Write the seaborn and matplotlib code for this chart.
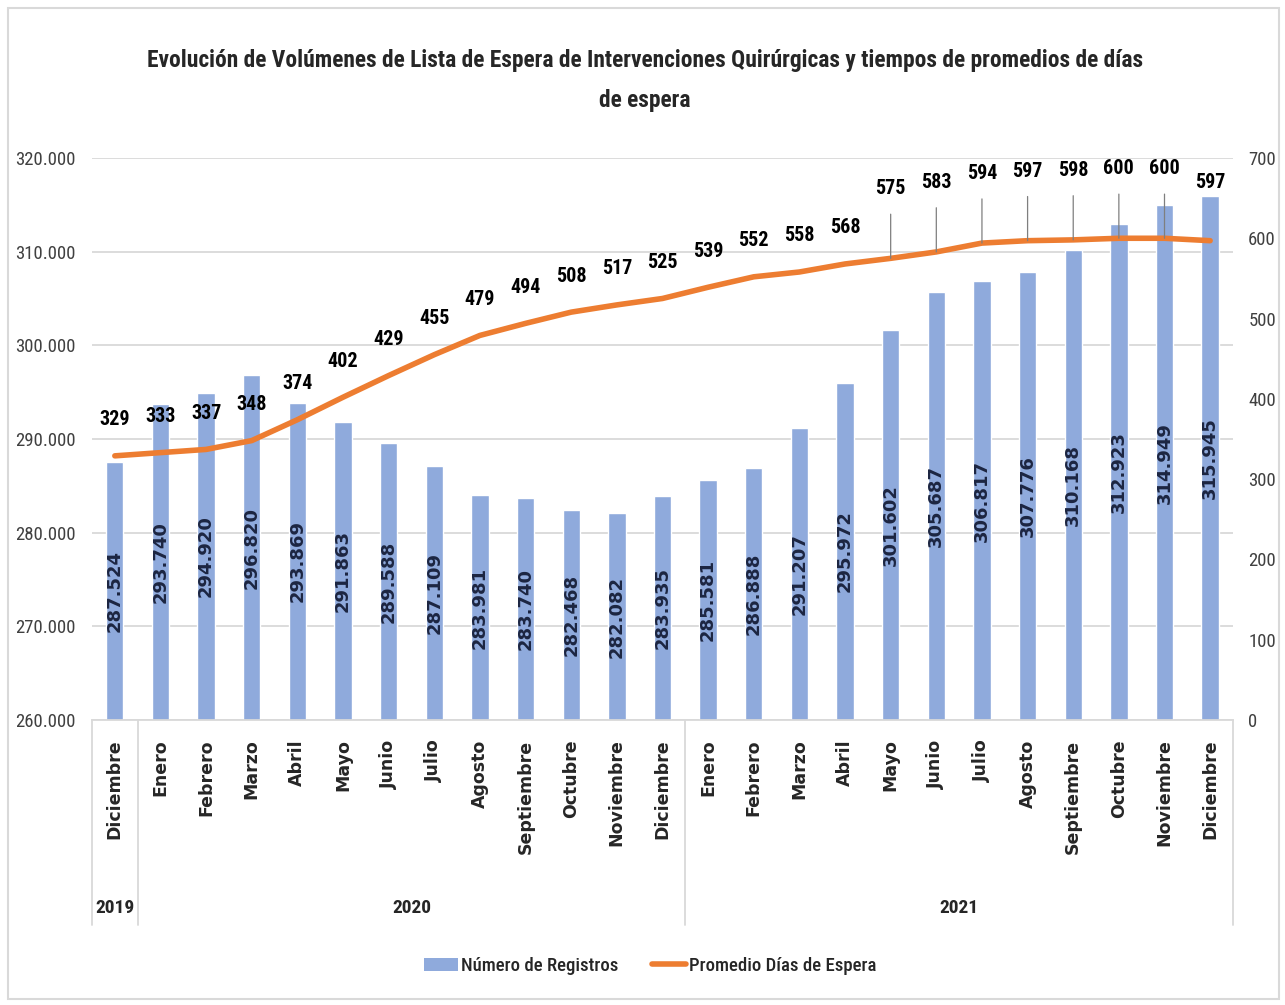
import numpy as np
import pandas as pd
import matplotlib
matplotlib.use("Agg")
import matplotlib.pyplot as plt
from matplotlib import font_manager
from matplotlib.patches import Patch, Rectangle
from matplotlib.lines import Line2D
from matplotlib.ticker import FuncFormatter
import matplotlib.transforms as mtransforms
import seaborn as sns

# Datos
meses = ["Diciembre", "Enero", "Febrero", "Marzo", "Abril", "Mayo", "Junio", "Julio",
         "Agosto", "Septiembre", "Octubre", "Noviembre", "Diciembre",
         "Enero", "Febrero", "Marzo", "Abril", "Mayo", "Junio", "Julio",
         "Agosto", "Septiembre", "Octubre", "Noviembre", "Diciembre"]
anios = ["2019"] + ["2020"] * 12 + ["2021"] * 12
registros = [287524, 293740, 294920, 296820, 293869, 291863, 289588, 287109,
             283981, 283740, 282468, 282082, 283935, 285581, 286888, 291207,
             295972, 301602, 305687, 306817, 307776, 310168, 312923, 314949, 315945]
dias_espera = [329, 333, 337, 348, 374, 402, 429, 455, 479, 494, 508, 517, 525,
               539, 552, 558, 568, 575, 583, 594, 597, 598, 600, 600, 597]
grupos_anio = ["2019", "2020", "2021"]

df = pd.DataFrame({"mes": meses, "anio": anios,
                   "registros": registros, "dias": dias_espera})
df["periodo"] = df["mes"] + " " + df["anio"]
df["pos"] = np.arange(len(df))

AZUL = "#8FAADC"
NARANJA = "#ED7D31"
GRIS = "#D9D9D9"

# fuente estrecha si existe
disponibles = {f.name for f in font_manager.fontManager.ttflist}
estrecha = "DejaVu Sans"
for cand in ["Liberation Sans Narrow", "DejaVu Sans Condensed", "Roboto Condensed",
             "Open Sans Condensed", "Roboto", "Liberation Sans"]:
    if cand in disponibles:
        estrecha = cand
        break

sns.set_theme(style="white")
narrow = [estrecha, "DejaVu Sans"]
wide = ["DejaVu Sans"]
plt.rcParams["font.family"] = narrow

fig = plt.figure(figsize=(12.85, 10.05), dpi=100)
ax = fig.add_axes([0.0716, 0.2836, 0.8879, 0.5592])

sns.barplot(data=df, x="periodo", y="registros", color=AZUL, width=0.38,
            saturation=1, ax=ax, zorder=2)
ax.set_ylim(260000, 320000)
ax.set_yticks(np.arange(260000, 320001, 10000))
ax.yaxis.set_major_formatter(FuncFormatter(lambda v, p: f"{int(v):,}".replace(",", ".")))
ax.grid(axis="y", color=GRIS, lw=1.3, zorder=0)
ax.set_axisbelow(True)
ax.set_xlabel("")
ax.set_ylabel("")
for s in ["top", "right", "left"]:
    ax.spines[s].set_visible(False)
ax.spines["bottom"].set_color(GRIS)
ax.spines["bottom"].set_linewidth(1.3)
ax.tick_params(axis="y", length=0, labelsize=13.5, labelcolor="#404040", pad=12)
ax.set_xticks(df["pos"])
ax.set_xticklabels(df["mes"], rotation=90, va="top", ha="center",
                   fontsize=12.5, fontweight="bold", family=wide, color="#262626")
ax.tick_params(axis="x", length=0, pad=14)

# etiquetas de barras
for x, v in zip(df["pos"], df["registros"]):
    ax.text(x, (v + 260000) / 2, f"{v:,}".replace(",", "."), rotation=90,
            ha="center", va="center", fontsize=13, fontweight="bold",
            family=wide, color="#1C2541", zorder=3)

# eje secundario
ax2 = ax.twinx()
sns.lineplot(data=df, x="pos", y="dias", color=NARANJA, lw=4, ax=ax2, zorder=4)
ax2.set_ylim(0, 700)
ax2.set_yticks(np.arange(0, 701, 100))
ax2.set_ylabel("")
ax2.set_xlabel("")
for s in ["top", "right", "left", "bottom"]:
    ax2.spines[s].set_visible(False)
ax2.tick_params(axis="y", length=0, labelsize=13.5, labelcolor="#404040", pad=11)
ax.set_xlim(-0.5, len(df) - 0.5)

for i, (x, v) in enumerate(zip(df["pos"], df["dias"])):
    if i < 17:
        ax2.annotate(str(v), (x, v), xytext=(0, 26), textcoords="offset points",
                     ha="center", va="center", fontsize=14.5, fontweight="bold",
                     color="black", zorder=5)
    elif i < len(df) - 1:
        ax2.annotate(str(v), (x, v), xytext=(0, 50), textcoords="offset points",
                     ha="center", va="center", fontsize=14.5, fontweight="bold",
                     color="black", zorder=5,
                     arrowprops=dict(arrowstyle="-", color="#7F7F7F", lw=0.9,
                                     shrinkA=9, shrinkB=0))
    else:
        ax2.annotate(str(v), (x, v), xytext=(0, 42), textcoords="offset points",
                     ha="center", va="center", fontsize=14.5, fontweight="bold",
                     color="black", zorder=5)

# eje x de dos niveles
trans = mtransforms.blended_transform_factory(ax.transData, ax.transAxes)
for xs in [-0.5, 0.5, 12.5, len(df) - 0.5]:
    ax.plot([xs, xs], [0, -0.365], transform=trans, color=GRIS, lw=1.3, clip_on=False)
for g in grupos_anio:
    xc = df.loc[df["anio"] == g, "pos"].mean()
    ax.text(xc, -0.3345, g, transform=trans, ha="center", va="center",
            fontsize=14, fontweight="bold", color="#262626")

titulo = ("Evolución de Volúmenes de Lista de Espera de Intervenciones Quirúrgicas "
          "y tiempos de promedios de días\nde espera")
t = fig.text(0.502, 0.920, titulo, ha="center", va="center", fontsize=17.5,
             fontweight="bold", color="#262626", linespacing=1.95)
# ajustar el ancho del título al de la referencia (~1000 px)
fig.canvas.draw()
ancho = t.get_window_extent().width
if ancho > 1000:
    t.set_fontsize(17.5 * 1000 / ancho)

handles = [Patch(facecolor=AZUL, edgecolor="none"),
           Line2D([0], [0], color=NARANJA, lw=4)]
fig.legend(handles, ["Número de Registros", "Promedio Días de Espera"],
           loc="center", bbox_to_anchor=(0.506, 0.039), ncol=2, frameon=False,
           handlelength=1.8, handletextpad=0.15, columnspacing=1.8,
           prop={"size": 13.5, "weight": "medium"})

fig.patches.append(Rectangle((0.006, 0.006), 0.989, 0.986, transform=fig.transFigure,
                             fill=False, edgecolor=GRIS, lw=1.5))

fig.savefig("out.png", dpi=100)
